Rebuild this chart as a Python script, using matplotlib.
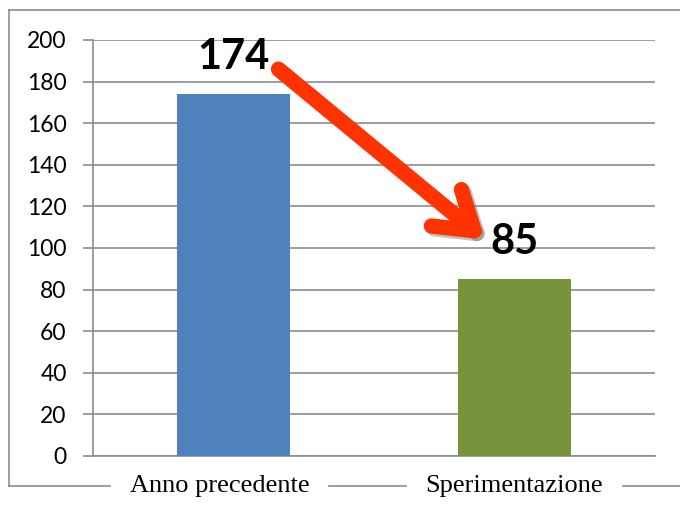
import numpy as np
import matplotlib
matplotlib.use('Agg')
import matplotlib.pyplot as plt
from matplotlib.lines import Line2D
from matplotlib.patches import FancyArrowPatch
from matplotlib.transforms import ScaledTranslation
import matplotlib.patheffects as pe

categorie = ['Anno precedente', 'Sperimentazione']
valori = [174, 85]
colori = ['#4F81BD', '#77933C']
tick_y = np.arange(0, 201, 20)

W, H = 680, 508
grigio = '#8C8C8C'

fig = plt.figure(figsize=(W / 100, H / 100), dpi=100)
ax = fig.add_axes([93 / W, 1 - 456 / H, 562 / W, 416 / H])

x = np.arange(len(categorie))
ax.bar(x, valori, width=0.4, color=colori, zorder=3)
ax.set_xlim(-0.5, 1.5)
ax.set_ylim(0, 200)
ax.set_yticks(tick_y)
ax.yaxis.grid(True, color=grigio, lw=1.2)
ax.set_axisbelow(True)

for s in ['top', 'right']:
    ax.spines[s].set_visible(False)
for s in ['left', 'bottom']:
    ax.spines[s].set_color(grigio)
    ax.spines[s].set_linewidth(1.2)

ax.tick_params(axis='y', length=7, width=1.2, color=grigio, pad=12, labelsize=16.5)
ax.tick_params(axis='x', length=0, pad=14, labelsize=19)
ax.set_xticks(x, categorie, fontfamily='Liberation Serif')
for lbl in ax.get_yticklabels():
    lbl.set_fontfamily('Lato')

# la prima etichetta nell'originale e' un po' spostata a sinistra
prima = ax.get_xticklabels()[0]
prima.set_transform(prima.get_transform() + ScaledTranslation(-0.14, 0, fig.dpi_scale_trans))

# etichette dei valori
for xi, v in zip(x, valori):
    ax.annotate(str(v), (xi, v), xytext=(0, 18), textcoords='offset points',
                ha='center', va='baseline', fontsize=30, fontweight='bold',
                family='Lato', zorder=6)

# freccia rossa
freccia = FancyArrowPatch((0.16, 186), (0.895, 104),
                          arrowstyle='->,head_length=2.6,head_width=1.7',
                          mutation_scale=10, lw=11, color='#FF3300',
                          capstyle='round', joinstyle='round',
                          shrinkA=0, shrinkB=0, zorder=5,
                          path_effects=[pe.SimpleLineShadow(offset=(2, -2), shadow_color='#777777', alpha=0.45),
                                        pe.Normal()])
ax.add_patch(freccia)

# cornice esterna
fig.add_artist(Line2D([9 / W, 9 / W], [1 - 10 / H, 1 - 486 / H], transform=fig.transFigure, color=grigio, lw=1.2))
fig.add_artist(Line2D([9 / W, 1], [1 - 10 / H, 1 - 10 / H], transform=fig.transFigure, color=grigio, lw=1.2))

fig.canvas.draw()
r = fig.canvas.get_renderer()
inizio = 9
for lbl in ax.get_xticklabels():
    bb = lbl.get_window_extent(r)
    fig.add_artist(Line2D([inizio / W, (bb.x0 - 20) / W], [1 - 486 / H] * 2,
                          transform=fig.transFigure, color=grigio, lw=1.2))
    inizio = bb.x1 + 20
fig.add_artist(Line2D([inizio / W, 1], [1 - 486 / H] * 2, transform=fig.transFigure, color=grigio, lw=1.2))

fig.savefig('out.png', dpi=100)
